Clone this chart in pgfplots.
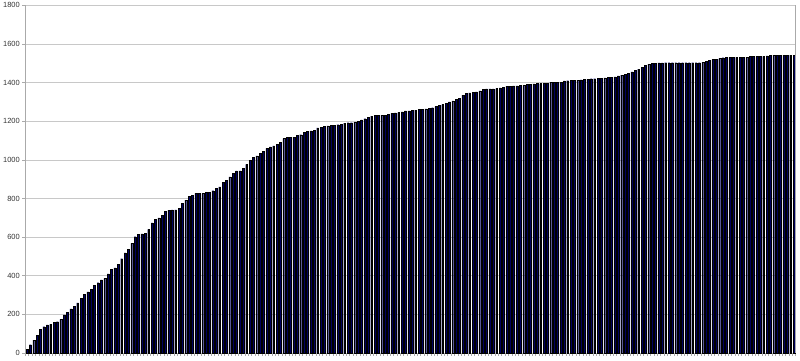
\documentclass[border=0pt]{standalone}
\usepackage{pgfplots}
\usepackage{pgfplotstable}
\pgfplotsset{compat=1.18}
\usepackage{fontspec}
\setmainfont{Liberation Sans}
\definecolor{barnavy}{RGB}{0,0,96}
\definecolor{gridgray}{RGB}{200,200,200}
\definecolor{axisgray}{RGB}{170,170,170}
\pgfplotstableread{
y
20
43
67
90
122
136
145
148
159
162
174
198
210
228
243
260
283
305
317
331
352
364
378
386
409
433
441
459
488
518
536
567
602
614
617
621
640
674
692
700
714
735
740
741
741
748
774
792
812
817
826
826
826
831
831
840
853
860
883
895
912
930
943
943
955
976
998
1012
1021
1033
1045
1059
1067
1072
1081
1090
1110
1116
1118
1118
1128
1130
1141
1148
1150
1154
1165
1169
1174
1176
1180
1180
1182
1183
1190
1192
1192
1195
1200
1207
1213
1219
1226
1231
1231
1231
1231
1235
1240
1243
1245
1248
1253
1253
1257
1257
1260
1260
1264
1267
1270
1276
1283
1286
1291
1300
1305
1312
1320
1335
1343
1347
1348
1352
1357
1364
1367
1367
1367
1369
1372
1377
1381
1381
1383
1383
1385
1386
1390
1390
1393
1395
1395
1395
1395
1402
1402
1402
1402
1409
1410
1412
1412
1412
1414
1416
1418
1420
1420
1422
1422
1424
1426
1428
1430
1434
1438
1442
1448
1455
1462
1470
1478
1488
1495
1499
1500
1502
1502
1503
1503
1503
1503
1503
1503
1503
1503
1503
1503
1503
1505
1510
1515
1519
1520
1524
1529
1531
1531
1531
1531
1531
1531
1531
1536
1536
1536
1536
1536
1538
1542
1542
1542
1542
1542
1542
1542
1542
}\datatab
\begin{document}
\begin{tikzpicture}
\begin{axis}[
  scale only axis,
  width=770.4bp, height=347.7bp,
  xmin=-0.5, xmax=227.5,
  ymin=0, ymax=1800,
  ytick={0,200,...,1800},
  ymajorgrids,
  grid style={gridgray, line width=0.6pt},
  xtick={-0.5,0.5,...,227.5},
  xticklabels={},
  tick align=outside,
  major tick length=3bp,
  tick style={axisgray, line width=0.5pt},
  axis line style={axisgray, line width=0.7pt},
  axis x line*=bottom,
  axis y line*=left,
  /pgf/number format/assume math mode=true,
  /pgf/number format/1000 sep={},
  yticklabel style={font=\fontsize{7.5}{8}\selectfont, text=black!80, xshift=1bp},
  clip=false,
]
\addplot[ybar, bar width=0.56, fill=barnavy, draw=black, line width=0.25pt]
  table[x expr=\coordindex, y=y] {\datatab};
\draw[axisgray, line width=0.7pt] (rel axis cs:1,0) -- (rel axis cs:1,1);
\end{axis}
\pgfresetboundingbox
\path ([shift={(-25.3bp,-8bp)}]current axis.south west) rectangle ([shift={(4.3bp,5.3bp)}]current axis.north east);
\end{tikzpicture}
\end{document}
